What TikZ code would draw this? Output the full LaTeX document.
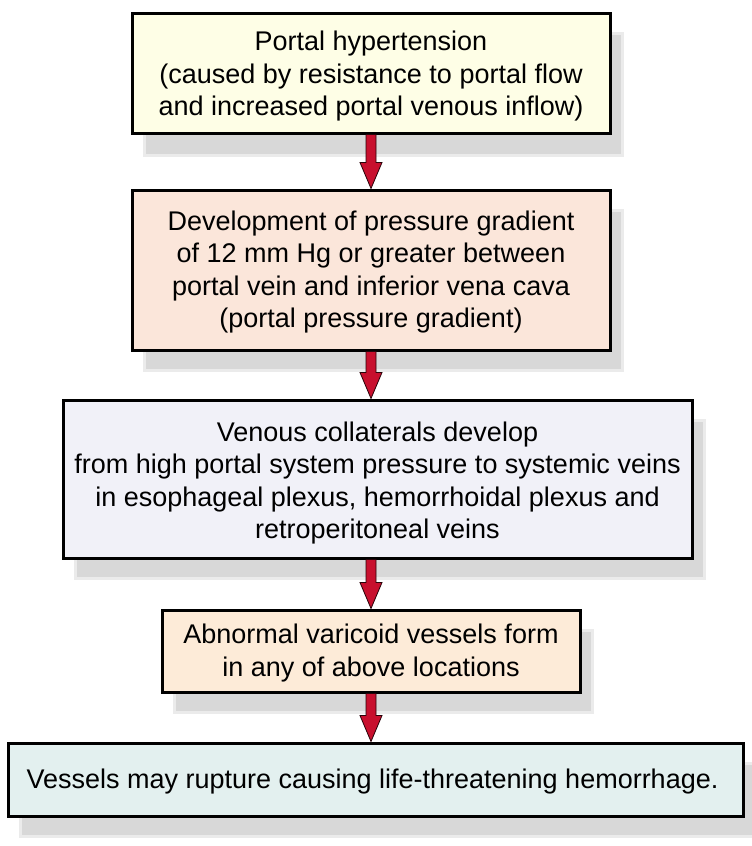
\documentclass[tikz,border=0pt]{standalone}
\usepackage{fontspec}
\setmainfont{Liberation Sans}
\definecolor{c1}{HTML}{FEFEE6}
\definecolor{c2}{HTML}{FBE6DA}
\definecolor{c3}{HTML}{F1F1F8}
\definecolor{c4}{HTML}{FDEBD8}
\definecolor{c5}{HTML}{E3F0EF}
\definecolor{shad}{HTML}{D8D8D8}
\definecolor{shadedge}{HTML}{EBEBEB}
\definecolor{arr}{HTML}{C8102E}
\tikzset{
  x=1pt,y=-1pt,
  box/.style={draw=black,line width=3pt,inner sep=0pt},
  boxtext/.style={inner sep=0pt,align=center,font=\fontsize{27}{32.5}\selectfont},
  shadowbox/.style={fill=shad,draw=shadedge,line width=3pt},
  flow/.style={draw=black!80!arr,line width=0.8pt,fill=arr}
}
\begin{document}
\begin{tikzpicture}
\useasboundingbox (0,0) rectangle (752,846);
% shadows
\draw[shadowbox] (144,33) rectangle (622,155);
\draw[shadowbox] (144,210) rectangle (622,370);
\draw[shadowbox] (75,420) rectangle (704,578);
\draw[shadowbox] (174,630) rectangle (592,712);
\draw[shadowbox] (20,763) rectangle (755,836);
% boxes
\node[box,fill=c1,minimum width=478,minimum height=120] (b1) at (371,73) {};
\node[boxtext] (t1) at ([yshift=-3.5pt]b1.center)
  {Portal hypertension\\(caused by resistance to portal flow\\and increased portal venous inflow)};
\node[box,fill=c2,minimum width=478,minimum height=160] (b2) at (371,270) {};
\node[boxtext] (t2) at ([yshift=-2pt]b2.center)
  {Development of pressure gradient\\of 12 mm Hg or greater between\\portal vein and inferior vena cava\\(portal pressure gradient)};
\node[box,fill=c3,minimum width=629,minimum height=158] (b3) at (377.5,479) {};
\node[boxtext] (t3) at ([yshift=-4pt]b3.center)
  {Venous collaterals develop\\from high portal system pressure to systemic veins\\in esophageal plexus, hemorrhoidal plexus and\\retroperitoneal veins};
\node[box,fill=c4,minimum width=418,minimum height=82] (b4) at (371,651) {};
\node[boxtext] (t4) at ([yshift=-2pt]b4.center)
  {Abnormal varicoid vessels form\\in any of above locations};
\node[box,fill=c5,minimum width=735,minimum height=73] (b5) at (375.5,779.5) {};
\node[boxtext] (t5) at ([xshift=-3pt,yshift=-2.5pt]b5.center)
  {Vessels may rupture causing life-threatening hemorrhage.};
% arrows
\draw[flow] ([xshift=-5pt]b1.south) -- ([xshift=5pt]b1.south) -- ([xshift=5pt,yshift=26pt]b2.north) -- ([xshift=11pt,yshift=26pt]b2.north) -- (b2.north) -- ([xshift=-11pt,yshift=26pt]b2.north) -- ([xshift=-5pt,yshift=26pt]b2.north) -- cycle;
\draw[flow] ([xshift=-5pt]b2.south) -- ([xshift=5pt]b2.south) -- ([xshift=5pt,yshift=26pt]b2.south|-b3.north) -- ([xshift=11pt,yshift=26pt]b2.south|-b3.north) -- (b2.south|-b3.north) -- ([xshift=-11pt,yshift=26pt]b2.south|-b3.north) -- ([xshift=-5pt,yshift=26pt]b2.south|-b3.north) -- cycle;
\draw[flow] ([xshift=-5pt]b2.south|-b3.south) -- ([xshift=5pt]b2.south|-b3.south) -- ([xshift=5pt,yshift=26pt]b4.north) -- ([xshift=11pt,yshift=26pt]b4.north) -- (b4.north) -- ([xshift=-11pt,yshift=26pt]b4.north) -- ([xshift=-5pt,yshift=26pt]b4.north) -- cycle;
\draw[flow] ([xshift=-5pt]b4.south) -- ([xshift=5pt]b4.south) -- ([xshift=5pt,yshift=26pt]b4.south|-b5.north) -- ([xshift=11pt,yshift=26pt]b4.south|-b5.north) -- (b4.south|-b5.north) -- ([xshift=-11pt,yshift=26pt]b4.south|-b5.north) -- ([xshift=-5pt,yshift=26pt]b4.south|-b5.north) -- cycle;
\end{tikzpicture}
\end{document}
